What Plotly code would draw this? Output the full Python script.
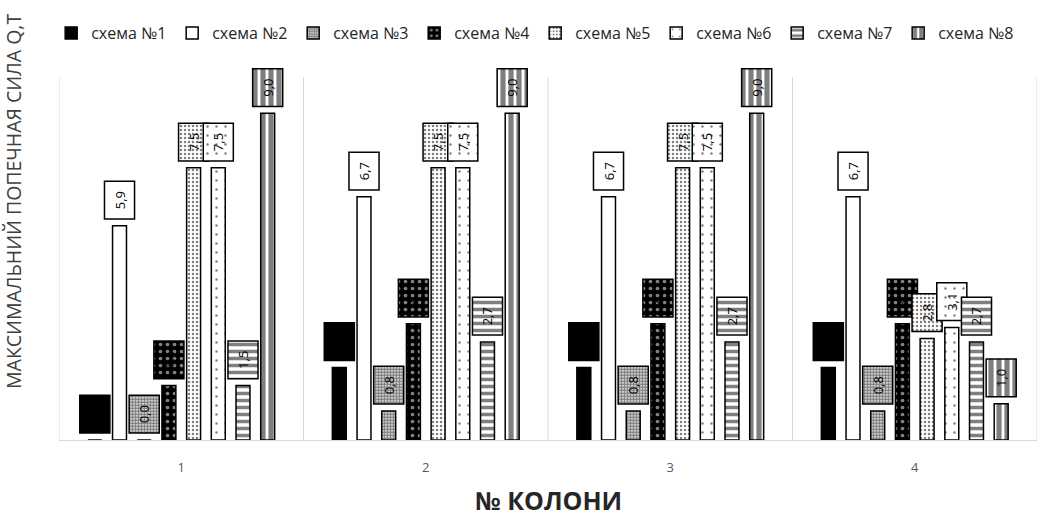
import plotly.graph_objects as go

# Колони (категорії осі X)
columns = [1, 2, 3, 4]
column_labels = ["1", "2", "3", "4"]

# Максимальна поперечна сила Q, т для кожної схеми
scheme_names = ["схема №1", "схема №2", "схема №3", "схема №4",
                "схема №5", "схема №6", "схема №7", "схема №8"]
scheme1 = [0.0, 2.0, 2.0, 2.0]
scheme2 = [5.9, 6.7, 6.7, 6.7]
scheme3 = [0.0, 0.8, 0.8, 0.8]
scheme4 = [1.5, 3.2, 3.2, 3.2]
scheme5 = [7.5, 7.5, 7.5, 2.8]
scheme6 = [7.5, 7.5, 7.5, 3.1]
scheme7 = [1.5, 2.7, 2.7, 2.7]
scheme8 = [9.0, 9.0, 9.0, 1.0]
series = [scheme1, scheme2, scheme3, scheme4, scheme5, scheme6, scheme7, scheme8]

# Заливки (візерунки) для кожної схеми
styles = [
    dict(color="black"),
    dict(color="white"),
    dict(color="white", pattern=dict(shape=".", size=3, solidity=0.75,
                                     fgcolor="black", bgcolor="white")),
    dict(color="black", pattern=dict(shape=".", size=7, solidity=0.22,
                                     fgcolor="white", bgcolor="black")),
    dict(color="white", pattern=dict(shape=".", size=4, solidity=0.3,
                                     fgcolor="black", bgcolor="white")),
    dict(color="white", pattern=dict(shape=".", size=9, solidity=0.06,
                                     fgcolor="black", bgcolor="white")),
    dict(color="white", pattern=dict(shape="-", size=7, solidity=0.5,
                                     fgcolor="black", bgcolor="white")),
    dict(color="white", pattern=dict(shape="|", size=8, solidity=0.65,
                                     fgcolor="black", bgcolor="white")),
]

FONT = "Open Sans"
slot = 0.101       # крок між стовпчиками в межах групи
bar_w = 0.057      # ширина стовпчика
box_w = 0.123      # ширина підпису-рамки
box_gap = 0.19     # відступ підпису від верху стовпчика
box_h = 1.04       # висота рамки підпису

fig = go.Figure()
n = len(series)
for i, (name, vals, st) in enumerate(zip(scheme_names, series, styles)):
    center = (i - (n - 1) / 2) * slot
    fig.add_trace(go.Bar(
        x=columns, y=vals, name=name,
        offset=center - bar_w / 2, width=bar_w,
        marker=dict(line=dict(color="black", width=1.5), **st),
        hoverinfo="y+name",
    ))
    # підпис значення у рамці з тією ж заливкою
    fig.add_trace(go.Bar(
        x=columns, y=[box_h] * len(vals),
        base=[v + box_gap for v in vals],
        offset=center - box_w / 2, width=box_w,
        marker=dict(line=dict(color="black", width=1.5), **st),
        text=[f"{v:.1f}".replace(".", ",") for v in vals],
        textposition="inside", insidetextanchor="middle",
        textangle=-90, textfont=dict(family=FONT, size=13, color="black"),
        showlegend=False, hoverinfo="skip",
    ))

# вертикальні лінії між групами
for xv in [0.5, 1.5, 2.5, 3.5, 4.5]:
    fig.add_shape(type="line", xref="x", yref="y", x0=xv, x1=xv, y0=0, y1=10,
                  line=dict(color="#d9d9d9", width=1), layer="below")

fig.update_layout(
    width=1042, height=517,
    margin=dict(l=59, r=5, t=68, b=77),
    barmode="overlay",
    plot_bgcolor="white", paper_bgcolor="white",
    font=dict(family=FONT, color="#404040"),
    legend=dict(orientation="h", x=-0.008, xanchor="left", y=1.094, yanchor="middle",
                font=dict(family=FONT, size=16, color="#262626"),
                itemwidth=30, entrywidth=76, entrywidthmode="pixels",
                traceorder="normal"),
    xaxis=dict(range=[0.5, 4.5], tickvals=columns, ticktext=column_labels,
               showgrid=False, showline=True, linecolor="#d9d9d9", linewidth=1,
               ticks="outside", ticklen=15, tickcolor="rgba(0,0,0,0)",
               tickfont=dict(family=FONT, size=13, color="#595959"),
               zeroline=False, fixedrange=True),
    yaxis=dict(range=[0, 10.25], showticklabels=False, showgrid=False,
               zeroline=False, showline=False, fixedrange=True),
    annotations=[
        dict(text="№ КОЛОНИ", xref="paper", yref="paper", x=0.5, y=-0.16,
             xanchor="center", yanchor="middle", showarrow=False,
             font=dict(family=FONT, size=25, color="#262626", weight="bold")),
        dict(text="МАКСИМАЛЬНИЙ ПОПЕЧНАЯ СИЛА Q,Т", xref="paper", yref="paper",
             x=-0.046, y=0.64, xanchor="center", yanchor="middle", textangle=-90,
             showarrow=False, font=dict(family=FONT, size=19.5, color="#404040")),
    ],
)

fig.write_html("out.html")
